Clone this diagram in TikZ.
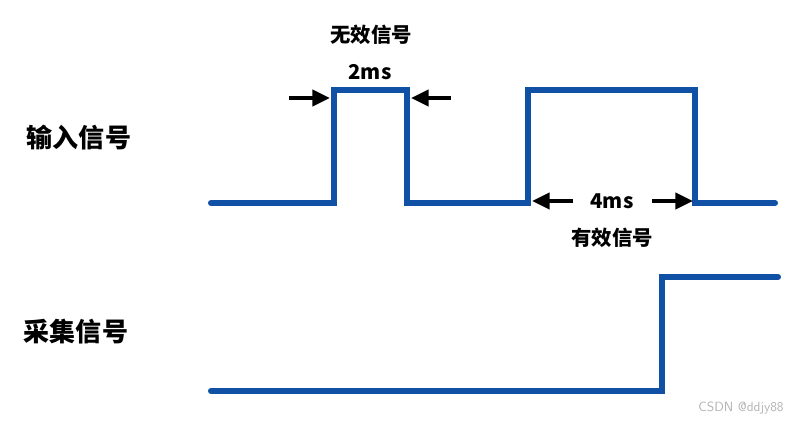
\documentclass[tikz,border=0pt]{standalone}
\usepackage{fontspec}
\newfontfamily\cjk{Noto Sans CJK SC}
\usetikzlibrary{arrows.meta}
\definecolor{wave}{RGB}{16,80,165}
\tikzset{
  sig/.style={draw=wave, line width=4.3pt, line cap=round, line join=miter},
  dim/.style={line width=2.5pt, -{Triangle[length=12.5pt,width=11.5pt]}},
  big/.style={font=\cjk\bfseries\fontsize{18.5}{20}\selectfont},
  small/.style={font=\cjk\bfseries\fontsize{14.5}{16}\selectfont}
}
\begin{document}
\begin{tikzpicture}[x=0.025cm,y=-0.025cm]
\useasboundingbox (0,0) rectangle (805,423);

% labels
\node[big] (lblin) at (79,138) {输入信号};
\node[big] (lblcap) at (76,332) {采集信号};

\node[small] (bad) at (371,35) {无效信号};
\node[small] (badt) at (370,72) {2ms};
\node[small] (goodt) at (612,201) {4ms};
\node[small] (good) at (612,238) {有效信号};

% input signal
\begin{scope}
\coordinate (i0) at (211,203);
\coordinate (i1) at (334,203);
\coordinate (i2) at (334,90);
\coordinate (i3) at (407,90);
\coordinate (i4) at (407,203);
\coordinate (i5) at (528,203);
\coordinate (i6) at (528,90);
\coordinate (i7) at (695,90);
\coordinate (i8) at (695,203);
\coordinate (i9) at (775,203);
\end{scope}
\path[sig] (i0) -- (i1) -- (i2) -- (i3) -- (i4) -- (i5) -- (i6) -- (i7) -- (i8) -- (i9);

% sampled signal
\coordinate (c0) at (211,391);
\coordinate (c1) at (662,391);
\coordinate (c2) at (662,277);
\coordinate (c3) at (778,277);
\path[sig] (c0) -- (c1) -- (c2) -- (c3);

% width arrows
\coordinate (a1) at (289,98);
\coordinate (a2) at (330,98);
\coordinate (a3) at (451,98);
\coordinate (a4) at (411,98);
\coordinate (b1) at (573,201);
\coordinate (b2) at (532,201);
\coordinate (b3) at (652,201);
\coordinate (b4) at (693,201);
\begin{scope}[dim]
\draw (a1) -- (a2);
\draw (a3) -- (a4);
\draw (b1) -- (b2);
\draw (b3) -- (b4);
\end{scope}

\node[text=black!30, font=\sffamily\fontsize{9.5}{10}\selectfont] (mark) at (741,408) {CSDN @ddjy88};

\end{tikzpicture}
\end{document}
